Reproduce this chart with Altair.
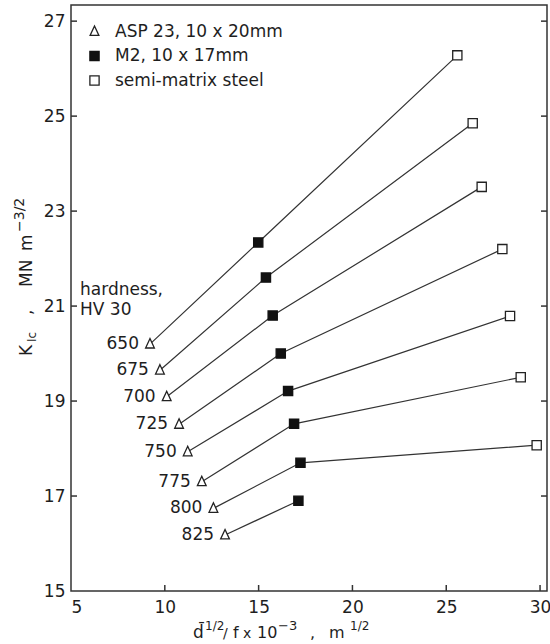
import altair as alt
import pandas as pd

# Fracture toughness K_Ic versus d^1/2/f for three steel variants,
# one line per hardness level (HV30).
hardness = [650, 675, 700, 725, 750, 775, 800, 825]

asp_x = [9.21, 9.74, 10.10, 10.76, 11.22, 11.97, 12.59, 13.21]
asp_k = [20.20, 19.65, 19.09, 18.51, 17.93, 17.30, 16.74, 16.18]

m2_x = [14.98, 15.39, 15.75, 16.18, 16.57, 16.89, 17.23, 17.12]
m2_k = [22.34, 21.60, 20.80, 20.00, 19.21, 18.52, 17.70, 16.90]

semi_x = [25.59, 26.41, 26.89, 27.99, 28.40, 28.97, 29.82]
semi_k = [26.28, 24.85, 23.51, 22.20, 20.79, 19.50, 18.07]

series_names = ["ASP 23, 10 x 20mm", "M2, 10 x 17mm", "semi-matrix steel"]

x_ticks = [5, 10, 15, 20, 25, 30]
y_ticks = [15, 17, 19, 21, 23, 25, 27]

FONT = "DejaVu Sans"
INK = "#1e1e1e"
W, H = 476, 586

# open triangle drawn as a custom symbol path (unit square -1..1)
TRIANGLE = "M0,-1.2L0.95,0.85L-0.95,0.85Z"

rows = []
for i, hv in enumerate(hardness):
    rows.append(dict(hv=hv, series=series_names[0], x=asp_x[i], k=asp_k[i]))
    rows.append(dict(hv=hv, series=series_names[1], x=m2_x[i], k=m2_k[i]))
    if i < len(semi_x):
        rows.append(dict(hv=hv, series=series_names[2], x=semi_x[i], k=semi_k[i]))
df = pd.DataFrame(rows)

x_scale = alt.Scale(domain=[5, 30.37], nice=False, zero=False)
y_scale = alt.Scale(domain=[15, 27.34], nice=False, zero=False)

x_axis = alt.Axis(values=x_ticks, title=None, grid=False, ticks=False, tickSize=0,
                  domain=False, labelPadding=8, labelFontSize=17, labelFont=FONT,
                  labelColor=INK, format="d")
y_axis = alt.Axis(values=y_ticks, title=None, grid=False, ticks=False, tickSize=0,
                  domain=False, labelPadding=6, labelFontSize=17, labelFont=FONT,
                  labelColor=INK, format="d")

base = alt.Chart(df)

lines = base.mark_line(color="#333", strokeWidth=1.2).encode(
    x=alt.X("x:Q", scale=x_scale, axis=x_axis),
    y=alt.Y("k:Q", scale=y_scale, axis=y_axis),
    detail="hv:N",
    order="x:Q",
)

legend = alt.Legend(title=None)
points = base.mark_point(size=85, strokeWidth=1.3, opacity=1).encode(
    x="x:Q",
    y="k:Q",
    shape=alt.Shape("series:N", sort=series_names,
                    scale=alt.Scale(domain=series_names,
                                    range=[TRIANGLE, "square", "square"]),
                    legend=legend),
    fill=alt.Fill("series:N", sort=series_names,
                  scale=alt.Scale(domain=series_names,
                                  range=["white", "#111", "white"]),
                  legend=legend),
    stroke=alt.Stroke("series:N", sort=series_names,
                      scale=alt.Scale(domain=series_names,
                                      range=["#222", "#111", "#222"]),
                      legend=legend),
)

hv_labels = base.transform_filter(
    alt.datum.series == series_names[0]
).mark_text(align="right", baseline="middle", dx=-11, fontSize=17,
            font=FONT, color=INK).encode(
    x="x:Q", y="k:Q", text="hv:N"
)

# Inward-pointing ticks on the left, right and bottom frame edges
y_tick_df = pd.DataFrame({"v": y_ticks[1:]})
x_tick_df = pd.DataFrame({"v": x_ticks[1:]})
left_ticks = alt.Chart(y_tick_df).mark_rule(color="#333", strokeWidth=1.5).encode(
    y="v:Q", x=alt.value(0), x2=alt.value(6))
right_ticks = alt.Chart(y_tick_df).mark_rule(color="#333", strokeWidth=1.5).encode(
    y="v:Q", x=alt.value(W), x2=alt.value(W - 6))
bottom_ticks = alt.Chart(x_tick_df).mark_rule(color="#333", strokeWidth=1.5).encode(
    x="v:Q", y=alt.value(H), y2=alt.value(H - 6))

# Axis titles and annotation, assembled from pieces so that sub/superscripts work
pieces = pd.DataFrame([
    # y title (rotated)
    dict(t="K", px=-39, py=351, fs=17, ang=270),
    dict(t="Ic", px=-35, py=337, fs=12, ang=270),
    dict(t=",", px=-39, py=310, fs=17, ang=270),
    dict(t="MN", px=-39, py=282, fs=17, ang=270),
    dict(t="m", px=-39, py=246, fs=17, ang=270),
    dict(t="\u22123/2", px=-47, py=227, fs=14, ang=270),
    # x title
    dict(t="d\u0304", px=122, py=633, fs=17, ang=0),
    dict(t="1/2", px=134, py=625, fs=12, ang=0),
    dict(t="/", px=152, py=633, fs=14, ang=0),
    dict(t="f", px=162, py=633, fs=16, ang=0),
    dict(t="x", px=172, py=633, fs=14, ang=0),
    dict(t="10", px=186, py=633, fs=16, ang=0),
    dict(t="\u22123", px=207, py=625, fs=13, ang=0),
    dict(t=",", px=239, py=633, fs=16, ang=0),
    dict(t="m", px=258, py=633, fs=16, ang=0),
    dict(t="1/2", px=279, py=625, fs=12, ang=0),
    # hardness annotation
    dict(t="hardness,", px=9, py=290, fs=17, ang=0),
    dict(t="HV 30", px=9, py=310, fs=17, ang=0),
])
texts = alt.Chart(pieces).mark_text(align="left", baseline="alphabetic",
                                    font=FONT, color=INK).encode(
    x=alt.X("px:Q", scale=None, axis=None),
    y=alt.Y("py:Q", scale=None, axis=None),
    size=alt.Size("fs:Q", scale=None, legend=None),
    angle=alt.Angle("ang:Q", scale=None, legend=None),
    text="t:N",
)

chart = alt.layer(
    lines, points, hv_labels, left_ticks, right_ticks, bottom_ticks, texts
).properties(
    width=W, height=H,
    autosize=alt.AutoSizeParams(type="none"),
    padding={"left": 71, "top": 5, "right": 3, "bottom": 53},
    background="white",
).configure_view(
    stroke="#333", strokeWidth=1.5
).configure_legend(
    orient="none", legendX=15, legendY=18, padding=0,
    labelFontSize=17, labelFont=FONT, labelColor=INK, labelLimit=400,
    labelOffset=12, rowPadding=6.5, symbolStrokeWidth=1.3, symbolSize=85,
)

chart.save("out.html", embed_options={"renderer": "svg", "actions": False})
